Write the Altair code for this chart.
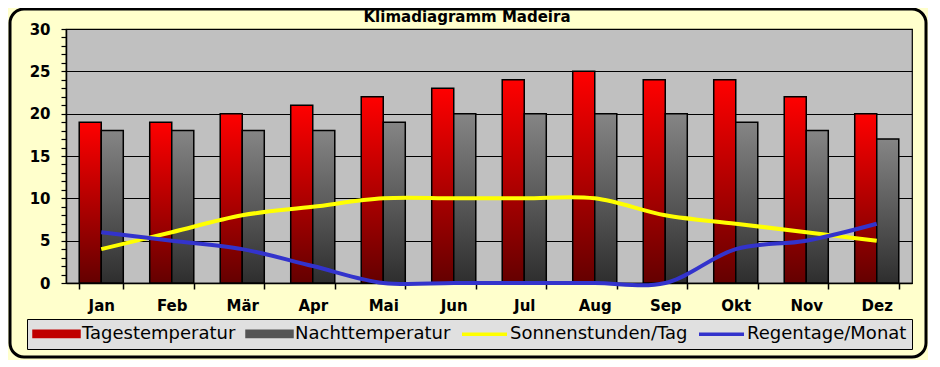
import altair as alt
import pandas as pd

# ---- data ----
months = ["Jan", "Feb", "Mär", "Apr", "Mai", "Jun", "Jul", "Aug", "Sep", "Okt", "Nov", "Dez"]
tagestemperatur = [19, 19, 20, 21, 22, 23, 24, 25, 24, 24, 22, 20]
nachttemperatur = [18, 18, 18, 18, 19, 20, 20, 20, 20, 19, 18, 17]
sonnenstunden = [4, 6, 8, 9, 10, 10, 10, 10, 8, 7, 6, 5]
regentage = [6, 5, 4, 2, 0, 0, 0, 0, 0, 4, 5, 7]
series_names = ["Tagestemperatur", "Nachttemperatur", "Sonnenstunden/Tag", "Regentage/Monat"]
series_colors = ["#c00000", "#555555", "#ffff00", "#3333cc"]
y_ticks = list(range(0, 31))

bars_df = pd.DataFrame({
    "Monat": months * 2,
    "Reihe": [series_names[0]] * 12 + [series_names[1]] * 12,
    "Wert": tagestemperatur + nachttemperatur,
})
lines_df = pd.DataFrame({
    "Monat": months * 2,
    "Reihe": [series_names[2]] * 12 + [series_names[3]] * 12,
    "Wert": sonnenstunden + regentage,
})
frame_df = pd.DataFrame({"k": [0]})

FONT = "DejaVu Sans"

x_enc = alt.X(
    "Monat:N", sort=months, title=None,
    scale=alt.Scale(paddingInner=0.375, paddingOuter=0.1875),
    axis=alt.Axis(labelAngle=0, tickBand="extent", tickSize=6, tickWidth=1.5,
                  domainWidth=1.5, labelFont=FONT, labelFontWeight="bold",
                  labelFontSize=15, labelPadding=9, labelColor="black"),
)
y_enc = alt.Y(
    "Wert:Q", title=None,
    scale=alt.Scale(domain=[0, 30], nice=False),
    axis=alt.Axis(values=y_ticks, labelExpr="datum.value % 5 === 0 ? datum.label : ''",
                  labelOverlap=False, tickSize=5, tickWidth=1.2, domainWidth=1.5,
                  labelFont=FONT, labelFontWeight="bold", labelFontSize=15,
                  labelPadding=11, labelColor="black",
                  grid=True, gridWidth=1,
                  gridColor={"condition": {"test": "datum.value % 5 === 0", "value": "black"},
                             "value": "transparent"}),
)
xoff = alt.XOffset("Reihe:N", sort=series_names[:2],
                   scale=alt.Scale(domain=series_names[:2], paddingInner=0, paddingOuter=0))

def vgrad(top, bottom):
    return {"gradient": "linear", "x1": 0, "y1": 0, "x2": 0, "y2": 1,
            "stops": [{"offset": 0, "color": top}, {"offset": 1, "color": bottom}]}

line_series = "indexof(['Sonnenstunden/Tag','Regentage/Monat'], datum.value) >= 0"

legend = alt.Legend(
    title=None, orient="none", legendX=-39, legendY=290, direction="horizontal", columns=4,
    symbolType={"expr": f"{line_series} ? 'M-1,0H5' : 'M-1,-0.35H5V0.35H-1Z'"},
    symbolSize=225,
    symbolStrokeColor={"expr": "scale('color', datum.value)"},
    symbolStrokeWidth=3.5,
    symbolOpacity=1,
    labelFont=FONT, labelFontSize=18, labelColor="black", labelOffset=31, labelLimit=400,
    columnPadding=4, padding=5, fillColor="#e0e0e0", strokeColor="black",
)

frame = alt.Chart(frame_df).mark_rect(
    fill="transparent", stroke="black", strokeWidth=3, cornerRadius=14
).encode(x=alt.value(-56), x2=alt.value(860), y=alt.value(-20), y2=alt.value(328))

bars_base = alt.Chart(bars_df).mark_bar().encode(
    x=x_enc, y=y_enc, xOffset=xoff,
    color=alt.Color("Reihe:N", scale=alt.Scale(domain=series_names, range=series_colors),
                    legend=legend),
)

red_bars = alt.Chart(bars_df).transform_filter(
    alt.datum.Reihe == series_names[0]
).mark_bar(fill=vgrad("#ff0000", "#640000"), stroke="black", strokeWidth=1.5).encode(
    x=x_enc, y=y_enc, xOffset=xoff)

gray_bars = alt.Chart(bars_df).transform_filter(
    alt.datum.Reihe == series_names[1]
).mark_bar(fill=vgrad("#858585", "#2e2e2e"), stroke="black", strokeWidth=1.5).encode(
    x=x_enc, y=y_enc, xOffset=xoff)

sun_line = alt.Chart(lines_df).transform_filter(
    alt.datum.Reihe == series_names[2]
).mark_line(color="#ffff00", strokeWidth=4, interpolate="catmull-rom").encode(x=x_enc, y=y_enc)

rain_line = alt.Chart(lines_df).transform_filter(
    alt.datum.Reihe == series_names[3]
).mark_line(color="#3333cc", strokeWidth=4, interpolate="catmull-rom").encode(x=x_enc, y=y_enc)

chart = alt.layer(frame, bars_base, red_bars, gray_bars, sun_line, rain_line).properties(
    width=846, height=254,
    title=alt.TitleParams("Klimadiagramm Madeira", font=FONT, fontSize=15, fontWeight="bold",
                          color="black", anchor="middle", offset=-17, dx=-22),
    background="#ffffcc",
    padding={"left": 58, "top": 21, "right": 16, "bottom": 77},
    autosize=alt.AutoSizeParams(type="none"),
).configure_view(fill="#c0c0c0", stroke="black", strokeWidth=1.2
).configure_axis(domainColor="black", tickColor="black")

chart.save("out.html", embed_options={"renderer": "svg", "actions": False})
